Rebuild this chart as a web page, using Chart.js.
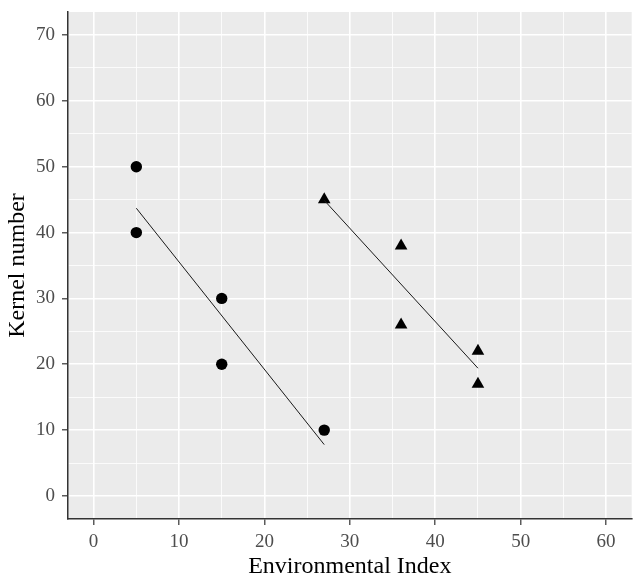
<!DOCTYPE html>
<html>
<head>
<meta charset="utf-8">
<script src="https://cdn.jsdelivr.net/npm/chart.js@4.4.0/dist/chart.umd.min.js"></script>
<style>
    body { margin: 0; background: #ffffff; }
    #wrap { width: 639px; height: 585px; position: relative; }
</style>
</head>
<body>
<div id="wrap"><canvas id="grafico"></canvas></div>
<script>
// points
const circleX = [5, 5, 15, 15, 27];
const circleY = [50, 40, 30, 20, 10];
const triangleX = [27, 36, 36, 45, 45];
const triangleY = [45, 38, 26, 22, 17];

// fitted line ends, as drawn
const circleLineX = [5, 27];
const circleLineY = [43.7, 7.8];
const triangleLineX = [27, 45];
const triangleLineY = [44.9, 19.4];

// axis ticks
const xMajor = [0, 10, 20, 30, 40, 50, 60];
const xMinor = [5, 15, 25, 35, 45, 55];
const yMajor = [0, 10, 20, 30, 40, 50, 60, 70];
const yMinor = [5, 15, 25, 35, 45, 55, 65];

function pairs(xs, ys) {
    return xs.map(function (x, i) { return { x: x, y: ys[i] }; });
}

const panelBackground = {
    id: 'panelBackground',
    beforeDraw: function (chart) {
        const a = chart.chartArea;
        const c = chart.ctx;
        c.save();
        c.fillStyle = '#EBEBEB';
        c.fillRect(a.left, a.top, a.right - a.left, a.bottom - a.top);
        c.restore();
    }
};

function axisOptions(major, minor, min, max, title, isX) {
    const all = major.concat(minor).sort(function (a, b) { return a - b; });
    return {
        type: 'linear',
        min: min,
        max: max,
        afterBuildTicks: function (scale) {
            scale.ticks = all.map(function (v) { return { value: v }; });
        },
        afterFit: function (scale) {
            if (isX) {
                scale.height = 66;
                scale.paddingLeft = 0;
                scale.paddingRight = 0;
            } else {
                scale.width = 68;
                scale.paddingTop = 0;
                scale.paddingBottom = 0;
            }
        },
        grid: {
            color: '#FFFFFF',
            lineWidth: function (ctx) {
                return major.indexOf(ctx.tick.value) >= 0 ? 1.6 : 0.8;
            },
            tickColor: function (ctx) {
                return major.indexOf(ctx.tick.value) >= 0 ? '#333333' : 'rgba(0,0,0,0)';
            },
            tickLength: 6,
            tickWidth: 1.2
        },
        border: {
            display: true,
            color: '#333333',
            width: 1.5
        },
        ticks: {
            autoSkip: false,
            maxRotation: 0,
            padding: isX ? 6 : 7,
            color: '#4D4D4D',
            font: { family: 'Liberation Serif', size: 19 },
            callback: function (value) {
                return major.indexOf(value) >= 0 ? String(value) : '';
            }
        },
        title: {
            display: true,
            text: title,
            color: '#000000',
            font: { family: 'Liberation Serif', size: 24 },
            padding: isX ? { top: 0, bottom: 4 } : { top: 3, bottom: 0 }
        }
    };
}

document.addEventListener('DOMContentLoaded', function () {
    const ctx = document.getElementById('grafico').getContext('2d');

    const grafico = new Chart(ctx, {
        type: 'scatter',
        data: {
            datasets: [
                {
                    label: 'circle line',
                    data: pairs(circleLineX, circleLineY),
                    showLine: true,
                    borderColor: '#1A1A1A',
                    borderWidth: 1,
                    pointRadius: 0
                },
                {
                    label: 'triangle line',
                    data: pairs(triangleLineX, triangleLineY),
                    showLine: true,
                    borderColor: '#1A1A1A',
                    borderWidth: 1,
                    pointRadius: 0
                },
                {
                    label: 'circles',
                    data: pairs(circleX, circleY),
                    pointStyle: 'circle',
                    pointRadius: 5.7,
                    backgroundColor: '#000000',
                    borderColor: '#000000',
                    borderWidth: 0
                },
                {
                    label: 'triangles',
                    data: pairs(triangleX, triangleY),
                    pointStyle: 'triangle',
                    pointRadius: 7.3,
                    backgroundColor: '#000000',
                    borderColor: '#000000',
                    borderWidth: 0
                }
            ]
        },
        options: {
            responsive: true,
            maintainAspectRatio: false,
            animation: false,
            layout: {
                padding: { top: 12, right: 6, left: 0, bottom: 0 }
            },
            plugins: {
                legend: { display: false },
                tooltip: { enabled: false }
            },
            scales: {
                x: axisOptions(xMajor, xMinor, -3, 63, 'Environmental Index', true),
                y: axisOptions(yMajor, yMinor, -3.5, 73.5, 'Kernel number', false)
            }
        },
        plugins: [panelBackground]
    });
});
</script>
</body>
</html>
